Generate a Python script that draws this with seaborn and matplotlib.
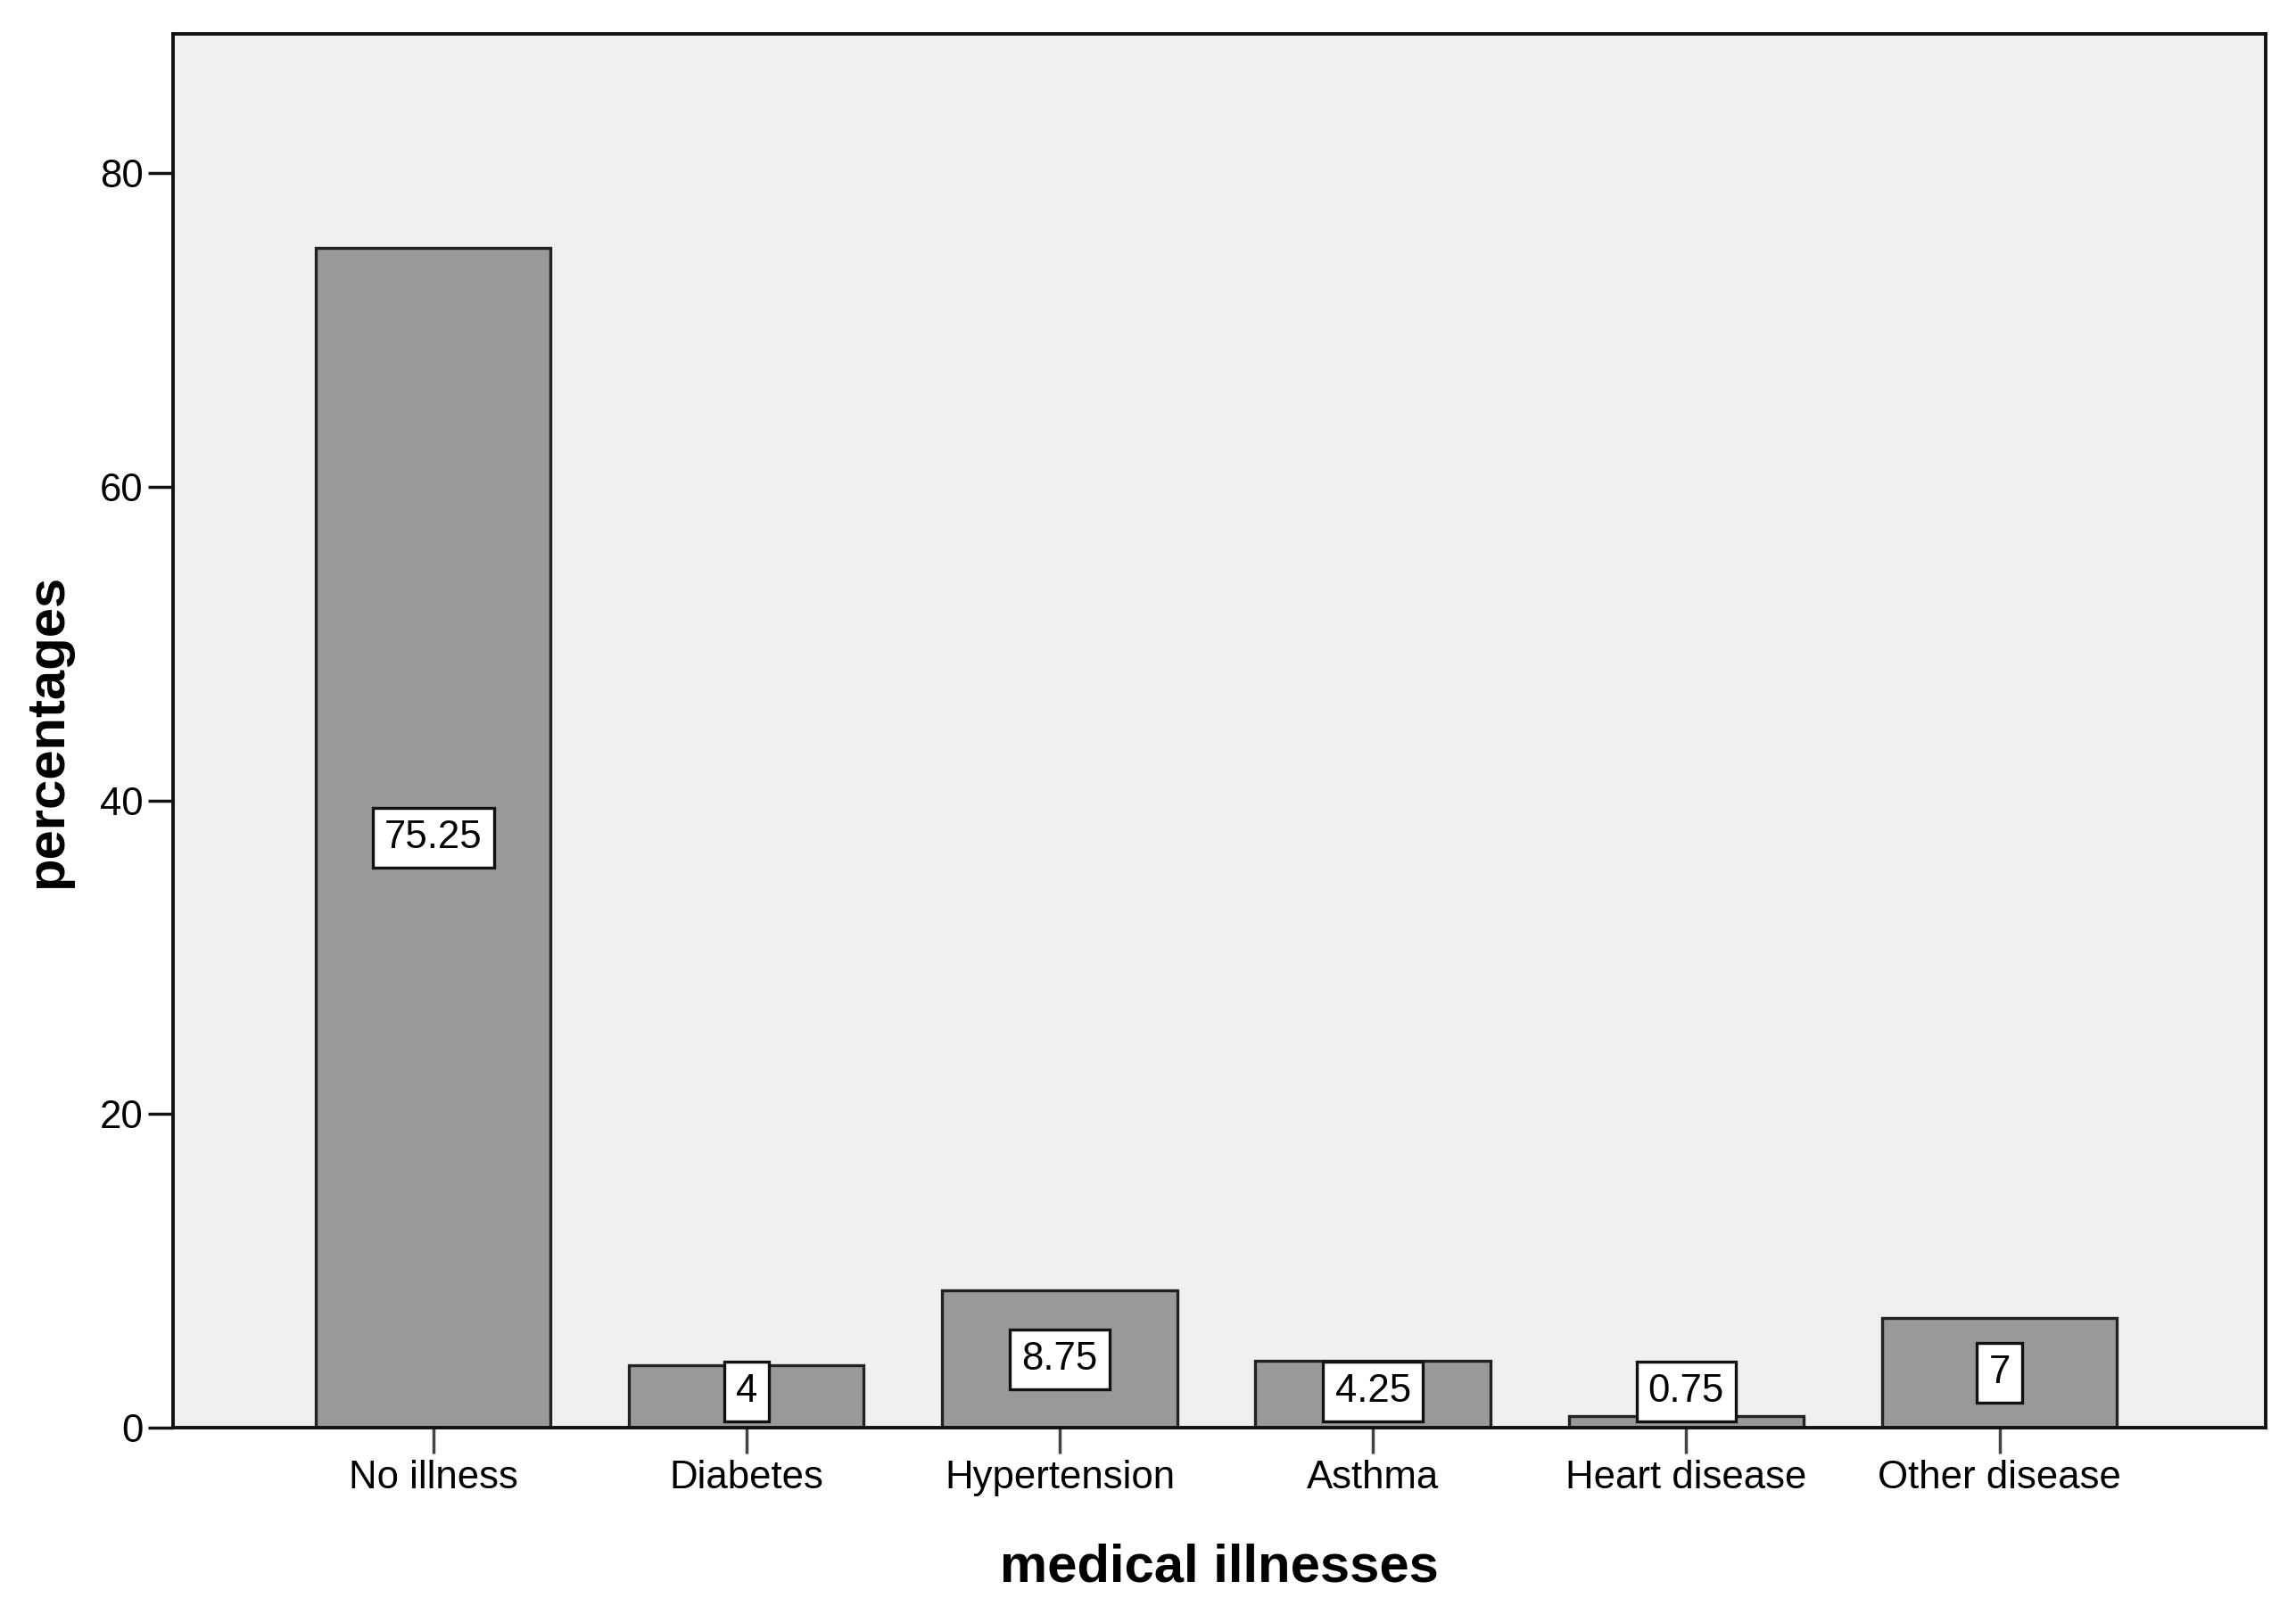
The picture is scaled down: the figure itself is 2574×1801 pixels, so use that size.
import matplotlib
matplotlib.use("Agg")
import matplotlib.pyplot as plt
import seaborn as sns
import pandas as pd

categories = ["No illness", "Diabetes", "Hypertension", "Asthma", "Heart disease", "Other disease"]
percentages = [75.25, 4, 8.75, 4.25, 0.75, 7]
value_labels = ["75.25", "4", "8.75", "4.25", "0.75", "7"]
y_ticks = [0, 20, 40, 60, 80]

sns.set_style("white")
plt.rcParams["font.family"] = ["Liberation Sans", "DejaVu Sans"]
plt.rcParams["text.color"] = "black"
plt.rcParams["axes.labelcolor"] = "black"
plt.rcParams["xtick.labelcolor"] = "black"
plt.rcParams["ytick.labelcolor"] = "black"

df = pd.DataFrame({"illness": categories, "pct": percentages})

fig = plt.figure(figsize=(25.74, 18.01), dpi=100)
ax = fig.add_axes([0.0754, 0.111, 0.9114, 0.868])
ax.set_facecolor("#F0F0F0")

sns.barplot(data=df, x="illness", y="pct", color="#999999", saturation=1,
            edgecolor="#222222", linewidth=2.4, width=0.75, ax=ax, zorder=2)

ax.set_xlim(-0.83, 5.85)
ax.set_ylim(0, 88.9)
ax.set_yticks(y_ticks)
ax.set_yticklabels([str(t) for t in y_ticks])

for sp in ax.spines.values():
    sp.set_color("#111111")
    sp.set_linewidth(2.8)
    sp.set_visible(True)

ax.tick_params(axis="x", direction="out", length=21, width=2.5, color="#444444",
               labelsize=31.5, pad=5, bottom=True, labelcolor="black")
ax.tick_params(axis="y", direction="out", length=20, width=2.5, color="#111111",
               labelsize=31.5, pad=4, left=True, labelcolor="black")

ax.set_xlabel("medical illnesses", fontsize=43, fontweight="bold", labelpad=38, color="black")
ax.set_ylabel("percentages", fontsize=43, fontweight="bold", labelpad=22, color="black")

for i, (v, lab) in enumerate(zip(percentages, value_labels)):
    ypos = max(v / 2, 2.3)
    ax.text(i, ypos, lab, ha="center", va="center", fontsize=31.5, zorder=5,
            clip_on=False, color="black",
            bbox=dict(boxstyle="square,pad=0.3", facecolor="white",
                      edgecolor="#111111", linewidth=2.4))

fig.savefig("out.png", dpi=100)
